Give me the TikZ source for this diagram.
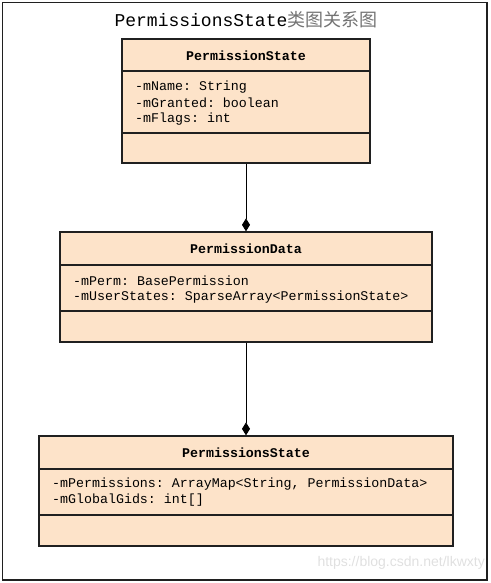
\documentclass[tikz,border=0pt]{standalone}
\usepackage{fontspec}
\setmonofont{Liberation Mono}
\newfontfamily\cjk{Noto Sans CJK SC}
\newfontfamily\wmfont{Liberation Sans}
\usetikzlibrary{arrows.meta}
\definecolor{boxfill}{HTML}{FDE3C9}
\definecolor{boxline}{HTML}{202020}
\begin{document}
\begin{tikzpicture}[x=1pt,y=-1pt,
  classbox/.style={draw=boxline,fill=boxfill,line width=1.3pt,inner sep=0pt,rectangle},
  divider/.style={draw=boxline,line width=1.3pt},
  head/.style={font=\ttfamily\bfseries\fontsize{13.3}{16}\selectfont,inner sep=0pt},
  attr/.style={font=\ttfamily\fontsize{13.3}{16}\selectfont,inner sep=0pt,anchor=west},
  comp/.style={draw=black,line width=1pt,-{Diamond[length=13pt,width=8pt]}}]
\useasboundingbox (0,0) rectangle (490,583);
\draw[line width=1.3pt,draw=boxline] (2.5,2.5) rectangle (487,580);
\node[font=\ttfamily\fontsize{18}{20}\selectfont,inner sep=0pt,anchor=base] (title) at (246,27) {PermissionsState{\cjk\color{black!55}类图关系图}};
% class 1
\node[classbox,minimum width=248pt,minimum height=124pt] (c1) at (246,101) {};
\draw[divider] (122,71) -- (370,71);
\draw[divider] (122,133) -- (370,133);
\node[head] (c1h) at (246,56) {PermissionState};
\node[attr] (c1a) at (135,87) {-mName: String};
\node[attr] (c1b) at (135,103) {-mGranted: boolean};
\node[attr] (c1c) at (135,119) {-mFlags: int};
% class 2
\node[classbox,minimum width=372pt,minimum height=110pt] (c2) at (246,287) {};
\draw[divider] (60,265) -- (432,265);
\draw[divider] (60,311) -- (432,311);
\node[head] (c2h) at (246,249) {PermissionData};
\node[attr] (c2a) at (73,281) {-mPerm: BasePermission};
\node[attr] (c2b) at (73,297) {-mUserStates: SparseArray<PermissionState>};
% class 3
\node[classbox,minimum width=414pt,minimum height=110pt] (c3) at (246,491) {};
\draw[divider] (39,469) -- (453,469);
\draw[divider] (39,515) -- (453,515);
\node[head] (c3h) at (246,453) {PermissionsState};
\node[attr] (c3a) at (52,484) {-mPermissions: ArrayMap<String, PermissionData>};
\node[attr] (c3b) at (52,500) {-mGlobalGids: int[]};
% connectors
\draw[comp] (c1.south) -- (c2.north);
\draw[comp] (c2.south) -- (c3.north);
% watermark
\node[font=\wmfont\fontsize{14}{16}\selectfont,text=black!12,inner sep=0pt,anchor=east] (wm) at (485,563) {https://blog.csdn.net/lkwxty};
\end{tikzpicture}
\end{document}
